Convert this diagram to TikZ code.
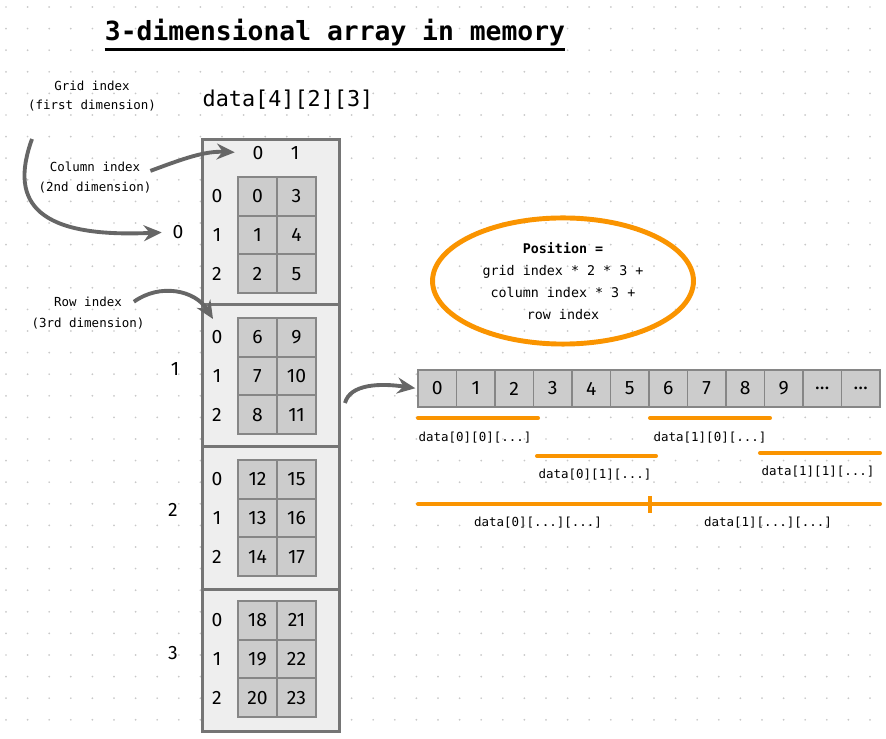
\documentclass[tikz,border=0pt]{standalone}
\usepackage{fontspec}
\setmainfont{DejaVu Sans Mono}
\newfontfamily\numfont{Fira Sans}
\usepackage{xcolor}
\usetikzlibrary{arrows.meta,positioning,shapes.geometric}
\definecolor{framegray}{RGB}{117,117,117}
\definecolor{cellline}{RGB}{134,134,134}
\definecolor{boxfill}{RGB}{238,238,238}
\definecolor{cellfill}{RGB}{204,204,204}
\definecolor{arrowgray}{RGB}{102,102,102}
\definecolor{spanorange}{RGB}{250,148,0}
\definecolor{dotgray}{RGB}{200,200,200}

\begin{document}
\begin{tikzpicture}[x=0.02cm, y=-0.02cm, font=\fontsize{7.1}{9}\selectfont,
  lbl/.style={align=center, inner sep=1pt},
  num/.style={font=\numfont\fontsize{11}{13}\selectfont, inner sep=1pt},
  cell/.style={draw=cellline, fill=cellfill, line width=1.1pt, num,
               minimum width=0.78cm, minimum height=0.774cm},
  gridbox/.style={draw=framegray, fill=boxfill, line width=1.7pt,
                  anchor=north west, minimum width=2.74cm},
  a/.style={-{Stealth[length=3.6mm, width=3.2mm, inset=1.2mm]},
            line width=2.2pt, arrowgray},
  span/.style={line width=2.3pt, spanorange, line cap=round}]
\useasboundingbox (0,0) rectangle (886,739);

% dotted paper
\foreach \i in {0,...,40}
  \foreach \j in {0,...,33}
    \fill[dotgray] (6+21.6*\i, 7+21.6*\j) circle (0.55pt);

% title
\node[font=\fontsize{15}{18}\selectfont\bfseries, inner sep=0pt] (title)
  at (335,33) {3-dimensional array in memory};
\draw[line width=1.5pt] ([yshift=-5pt]title.base west) -- ([yshift=-5pt]title.base east);

\node[font=\fontsize{12.4}{15}\selectfont, inner sep=0pt] (decl) at (288,100) {data[4][2][3]};

% grid boxes
\foreach \g/\top/\h in {0/138/165, 1/303/142, 2/445/143, 3/588/142}
  \node[gridbox, minimum height={\h*0.02cm}] (box\g) at (201,\top) {};

% cells and row indices
\foreach \g/\ct in {0/177, 1/318, 2/460, 3/601} {
  \foreach \r in {0,1,2} {
    \node[num] (g\g r\r) at (217, \ct+19.35+38.7*\r) {\r};
    \foreach \c in {0,1} {
      \pgfmathtruncatemacro\v{6*\g+3*\c+\r}
      \node[cell] (g\g c\c r\r) at (257.5+39*\c, \ct+19.35+38.7*\r) {\v};
    }
  }
}
\node[num] (ch0) at (258,153) {0};
\node[num] (ch1) at (295,153) {1};

% grid indices
\foreach \g/\x/\y in {0/178/232, 1/175/369, 2/173/510, 3/173/653}
  \node[num] (gl\g) at (\x,\y) {\g};

% annotations
\node[lbl] (gi1) at (92,86) {Grid index};
\node[lbl] (gi2) at (92,106) {(first dimension)};
\node[lbl] (ci1) at (95,167) {Column index};
\node[lbl] (ci2) at (95,188) {(2nd dimension)};
\node[lbl] (ri1) at (88,302) {Row index};
\node[lbl] (ri2) at (88,324) {(3rd dimension)};

\coordinate (gtail) at (32,139);
\coordinate (rtip) at (213,319);
\coordinate (atail) at (345,403);
\draw[a, shorten >=5pt] (gtail) .. controls (8,205) and (40,238) .. (gl0.west);
\draw[a, shorten <=5pt, shorten >=9pt] (ci1.south east) .. controls (185,158) and (205,151) .. (ch0.west);
\draw[a, shorten <=7pt] (ri1.south east) .. controls (160,283) and (195,290) .. (rtip);

% formula
\node[ellipse, draw=spanorange, line width=2.8pt, minimum width=5.22cm,
      minimum height=2.08cm, align=center, font=\fontsize{7.6}{12.6}\selectfont]
  (pos) at (563,281)
  {\textbf{Position =}\\grid index * 2 * 3 +\\column index * 3 +\\row index};

% linear memory
\foreach \i/\t in {0/0,1/1,2/2,3/3,4/4,5/5,6/6,7/7,8/8,9/9,10/\dots,11/\dots}
  \node[cell, minimum width=0.77cm, minimum height=0.74cm] (m\i)
    at (437.25+38.5*\i, 388.5) {\t};
\draw[a, shorten >=1pt] (atail) .. controls (350,384) and (380,383) .. (m0.west);

% spans
\draw[span] (418,418) -- (538,418);
\draw[span] (650,418) -- (770,418);
\draw[span] (537,456) -- (656,456);
\draw[span] (760,453) -- (880,453);
\draw[span] (418,504) -- (880,504);
\draw[span, line cap=butt] (650,496) -- (650,513);
\node[lbl] (s00) at (475,438) {data[0][0][...]};
\node[lbl] (s10) at (710,438) {data[1][0][...]};
\node[lbl] (s01) at (595,475) {data[0][1][...]};
\node[lbl] (s11) at (818,472) {data[1][1][...]};
\node[lbl] (s0) at (538,523) {data[0][...][...]};
\node[lbl] (s1) at (768,523) {data[1][...][...]};
\end{tikzpicture}
\end{document}
